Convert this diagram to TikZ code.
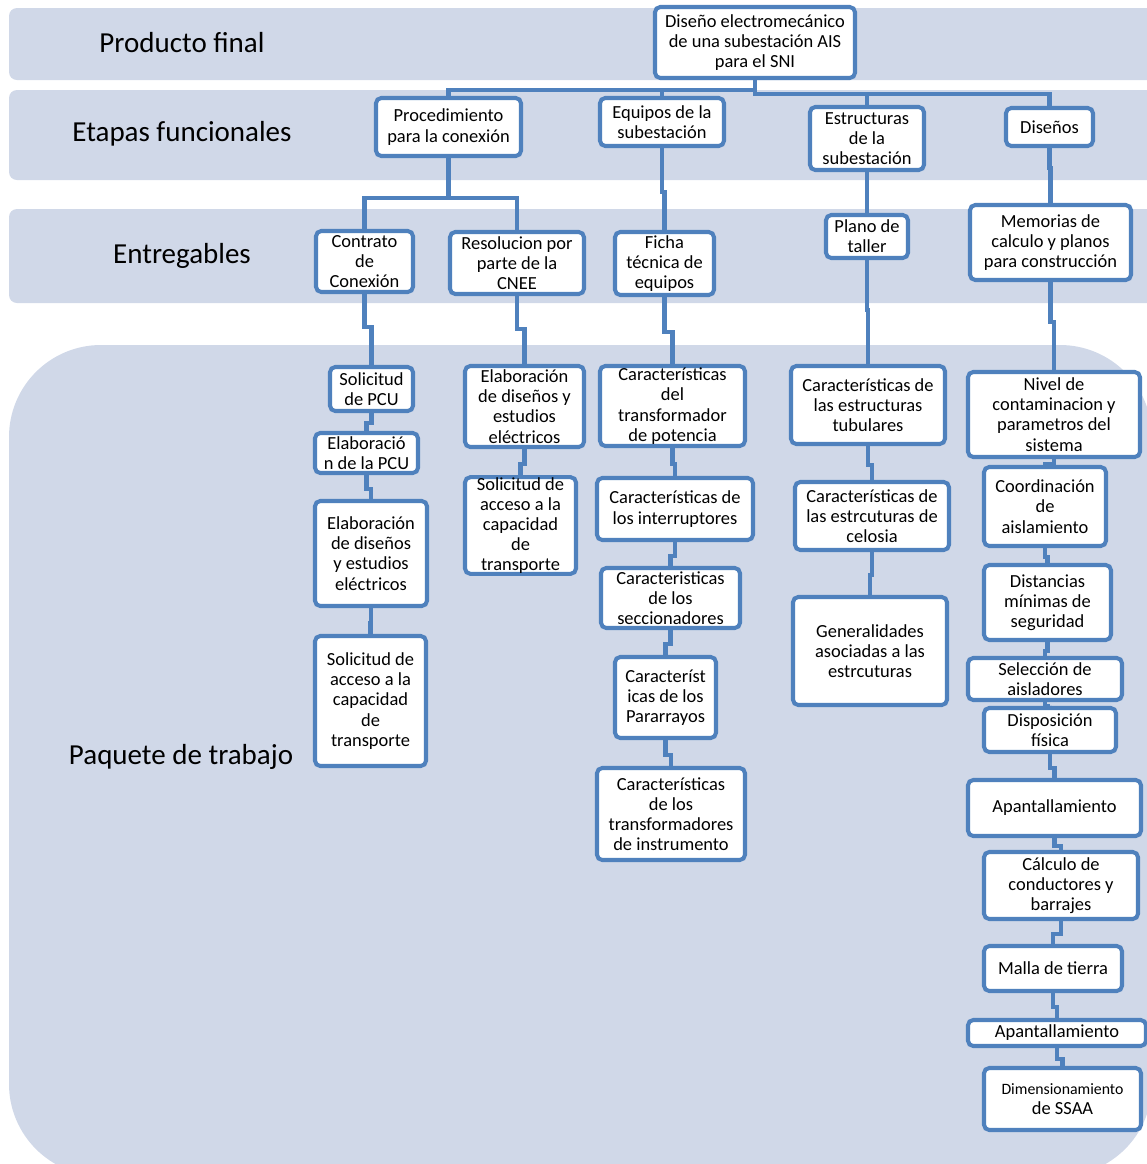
\documentclass[tikz,border=0pt]{standalone}
\usepackage{fontspec}
\setmainfont{Carlito}
\usepackage{tikz}
\definecolor{bandfill}{RGB}{208,216,232}
\definecolor{boxline}{RGB}{79,129,189}
\newcommand{\boxlinewidth}{2.3pt}
\tikzset{band/.style={fill=bandfill, draw=none}}
\tikzset{bandlabel/.style={font=\fontsize{16.5}{19}\selectfont}}
\tikzset{wbs/.style={rectangle, rounded corners=3pt, draw=boxline, line width=\boxlinewidth, fill=white, align=center, inner sep=0pt, font=\fontsize{10.5}{11.5}\selectfont}}
\tikzset{wbslink/.style={draw=boxline, line width=\boxlinewidth}}
\newcommand{\wbsbox}[6] % node name, centre x, centre y, width, height (pixels), text
{\node[wbs, minimum width=#4*0.02cm, minimum height=#5*0.02cm] (#1) at (#2,#3) {#6};
}
\newcommand{\linkdown}[3] % upper and lower node names without parentheses, drop before the jog
{\draw[wbslink] (#1.south) -- ++ (0,#3) -| (#2.north);
}

\begin{document}
\begin{tikzpicture}[x=0.02cm, y=-0.02cm]

\useasboundingbox (0,0) rectangle (1147,1164);

% bands
\fill[band, rounded corners=0.16cm] (9,8) rectangle (1170,80);
\fill[band, rounded corners=0.16cm] (9,90) rectangle (1170,180);
\fill[band, rounded corners=0.16cm] (9,209) rectangle (1170,303);
\fill[band, rounded corners=1.84cm] (9,345) rectangle (1152,1176);

\node[bandlabel] (lab1) at (182,43) {Producto final};
\node[bandlabel] (lab2) at (182,134) {Etapas funcionales};
\node[bandlabel] (lab3) at (182,256) {Entregables};
\node[bandlabel] (lab4) at (181,757) {Paquete de trabajo};

\wbsbox{0}{755}{42.5}{200}{71}{Diseño electromecánico\\de una subestación AIS\\para el SNI}

\wbsbox{1}{448.5}{127}{145}{58}{Procedimiento\\para la conexión} \linkdown{0}{1}{10}
\wbsbox{2}{662}{122}{124}{48}{Equipos de la\\subestación} \linkdown{0}{2}{10}
\wbsbox{3}{867}{138.5}{114}{63}{Estructuras\\de la\\subestación} \linkdown{0}{3}{14}
\wbsbox{4}{1049.5}{127}{87}{38}{Diseños} \linkdown{0}{4}{14}

\wbsbox{1a}{364.5}{261.5}{97}{61}{Contrato\\de\\Conexión} \linkdown{1}{1a}{40}
\wbsbox{1b}{517}{263}{134}{62}{Resolucion por\\parte de la\\CNEE} \linkdown{1}{1b}{40}
\wbsbox{2a}{664.5}{263.5}{99}{63}{Ficha\\técnica de\\equipos} \linkdown{2}{2a}{44}
\wbsbox{3a}{867}{236.5}{82}{43}{Plano de\\taller} \linkdown{3}{3a}{20}
\wbsbox{4a}{1050.5}{242.5}{161}{75}{Memorias de\\calculo y planos\\para construcción} \linkdown{4}{4a}{20}

% paquetes: procedimiento
\wbsbox{1a1}{371.5}{389}{83}{44}{Solicitud\\de PCU} \linkdown{1a}{1a1}{33}
\wbsbox{1a2}{366.5}{453}{103}{40}{Elaboració\\n de la PCU} \linkdown{1a1}{1a2}{10}
\wbsbox{1a3}{371}{553.5}{112}{105}{Elaboración\\de diseños\\y estudios\\eléctricos} \linkdown{1a2}{1a3}{14}
\wbsbox{1a4}{370.5}{701}{111}{130}{Solicitud de\\acceso a la\\capacidad\\de\\transporte} \linkdown{1a3}{1a4}{15}
\wbsbox{1b1}{524.5}{406.5}{119}{81}{Elaboración\\de diseños y\\estudios\\eléctricos} \linkdown{1b}{1b1}{33}
\wbsbox{1b2}{520.5}{525.5}{111}{95}{Solicitud de\\acceso a la\\capacidad\\de\\transporte} \linkdown{1b1}{1b2}{15}

% paquetes: equipos
\wbsbox{2a1}{672.5}{406}{145}{80}{Características\\del\\transformador\\de potencia} \linkdown{2a}{2a1}{35}
\wbsbox{2a2}{675}{509}{156}{62}{Características de\\los interruptores} \linkdown{2a1}{2a2}{16}
\wbsbox{2a3}{670.5}{598}{139}{60}{Caracteristicas\\de los\\seccionadores} \linkdown{2a2}{2a3}{14}
\wbsbox{2a4}{665.5}{697.5}{101}{81}{Característ\\icas de los\\Pararrayos} \linkdown{2a3}{2a4}{14}
\wbsbox{2a5}{671}{814}{148}{92}{Características\\de los\\transformadores\\de instrumento} \linkdown{2a4}{2a5}{15}

% paquetes: estructuras
\wbsbox{3a1}{868}{405}{154}{78}{Características de\\las estructuras\\tubulares} \linkdown{3a}{3a1}{50}
\wbsbox{3a2}{872}{516}{154}{68}{Características de\\las estrcuturas de\\celosia} \linkdown{3a1}{3a2}{19}
\wbsbox{3a3}{870}{651}{154}{108}{Generalidades\\asociadas a las\\estrcuturas} \linkdown{3a2}{3a3}{23}

% paquetes: disenos
\wbsbox{4a1}{1054}{414.5}{172}{85}{Nivel de\\contaminacion y\\parametros del\\sistema} \linkdown{4a}{4a1}{40}
\wbsbox{4a2}{1045}{506.5}{122}{79}{Coordinación\\de\\aislamiento} \linkdown{4a1}{4a2}{5}
\wbsbox{4a3}{1047.5}{602.5}{127}{75}{Distancias\\mínimas de\\seguridad} \linkdown{4a2}{4a3}{9}
\wbsbox{4a4}{1045}{679}{154}{42}{Selección de\\aisladores} \linkdown{4a3}{4a4}{9}
\wbsbox{4a5}{1050}{730}{132}{44}{Disposición\\física} \linkdown{4a4}{4a5}{4}
\wbsbox{4a6}{1054.5}{808}{173}{56}{Apantallamiento} \linkdown{4a5}{4a6}{14}
\wbsbox{4a7}{1061}{885.5}{154}{67}{Cálculo de\\conductores y\\barrajes} \linkdown{4a6}{4a7}{8}
\wbsbox{4a8}{1053}{968.5}{138}{45}{Malla de tierra} \linkdown{4a7}{4a8}{13}
\wbsbox{4a9}{1057}{1033}{178}{26}{Apantallamiento} \linkdown{4a8}{4a9}{14}
\wbsbox{4a10}{1062.5}{1099}{157}{62}{{\fontsize{9}{11.5}\selectfont Dimensionamiento}\\de SSAA} \linkdown{4a9}{4a10}{11}

\end{tikzpicture}
\end{document}
